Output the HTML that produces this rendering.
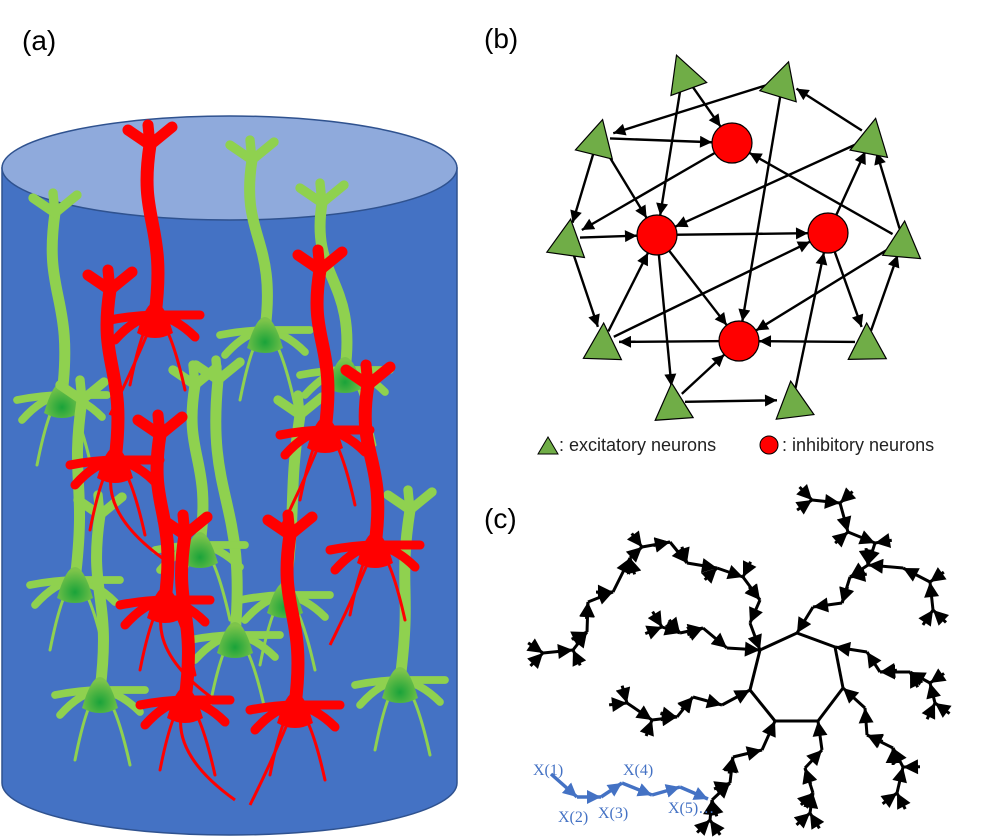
<!DOCTYPE html>
<html><head><meta charset="utf-8"><style>
html,body{margin:0;padding:0;background:#fff;}
svg{display:block;font-family:"Liberation Sans",sans-serif;}
</style></head><body>
<svg id="fig" width="1006" height="838" viewBox="0 0 1006 838">
<defs>
<radialGradient id="gsoma" cx="50%" cy="70%" r="60%"><stop offset="0" stop-color="#1aa33a"/><stop offset="1" stop-color="#7dc44a"/></radialGradient>
<marker id="ah" viewBox="0 0 10 10" refX="10" refY="5" markerWidth="6" markerHeight="5" orient="auto"><path d="M0,0L10,5L0,10z" fill="#000"/></marker>
<marker id="ab" viewBox="0 0 10 10" refX="10" refY="5" markerWidth="4" markerHeight="4" orient="auto"><path d="M0,0L10,5L0,10z" fill="#4472c4"/></marker>
<marker id="at" viewBox="0 0 10 10" refX="10" refY="5" markerWidth="7" markerHeight="5" orient="auto"><path d="M0,0L10,5L0,10z" fill="#000"/></marker>
</defs>
<text x="22" y="50" font-size="28">(a)</text>
<text x="484" y="48" font-size="28">(b)</text>
<text x="484" y="528" font-size="28">(c)</text>
<g id="cyl">
<path d="M2,168 L2,783 A227.5,52 0 0 0 457,783 L457,168 Z" fill="#4472c4" stroke="#2f528f" stroke-width="1.5"/>
<ellipse cx="229.5" cy="168" rx="227.5" ry="52" fill="#8faadc" stroke="#2f528f" stroke-width="1.5"/>
</g>
<g id="neurons"></g>
<g id="netb"></g>
<g>
<polygon points="538,454 548,437 558,454" fill="#70ad47" stroke="#000" stroke-width="1"/>
<text x="559" y="451" font-size="18" fill="#222">: excitatory neurons</text>
<circle cx="769" cy="445" r="9" fill="#f00" stroke="#000" stroke-width="1"/>
<text x="782" y="451" font-size="18" fill="#222">: inhibitory neurons</text>
</g>
<g id="tree"></g>
<g id="chain"></g>
</svg>
<script>
const NS='http://www.w3.org/2000/svg';
function mk(parent,tag,attrs){const e=document.createElementNS(NS,tag);for(const k in attrs)e.setAttribute(k,attrs[k]);parent.appendChild(e);return e;}
const greenNeurons=[[62,395,55,198],[265,330,252,145],[345,370,322,188],[75,580,82,385],[235,635,218,365],[285,595,300,400],[400,680,410,495],[100,690,100,500],[200,545,195,370]];
const redNeurons=[[155,315,150,130],[115,460,110,275],[325,430,320,255],[165,600,160,420],[375,545,368,370],[185,700,185,520],[295,705,290,520]];
const NG=document.getElementById('neurons');
function neuron(n,col,thick,axon){
  const [sx,sy,tx,ty]=n;const g=mk(NG,'g',{});
  
  
  [[-40,25],[40,22],[-25,70],[30,75],[-45,5],[45,0]].forEach(([dx,dy])=>{
    mk(g,'path',{d:`M${sx},${sy} q${dx*0.5},${dy*0.1} ${dx},${dy}`,stroke:col,'stroke-width':dy>40?3:thick*0.7,fill:'none','stroke-linecap':'round'});
  });
  if(axon) mk(g,'path',{d:`M${sx},${sy} q${-20},50 ${axon},100`,stroke:col,'stroke-width':3,fill:'none'});
  mk(g,'path',{d:`M${sx},${sy} C${sx+12},${(sy+ty)/2} ${tx-12},${(sy+ty)/2} ${tx},${ty+15}`,stroke:col,'stroke-width':thick,fill:'none','stroke-linecap':'round'});
  mk(g,'path',{d:`M${tx-22},${ty} L${tx},${ty+15} L${tx+22},${ty-3} M${tx},${ty+15} L${tx-2},${ty-5}`,stroke:col,'stroke-width':thick*0.85,fill:'none','stroke-linecap':'round'});
  mk(g,'path',{d:`M${sx-18},${sy+18} Q${sx},${sy-44} ${sx+18},${sy+18} Q${sx},${sy+28} ${sx-18},${sy+18}Z`,fill:col==='#f00'?'#f00':'url(#gsoma)'});
}
greenNeurons.forEach(n=>neuron(n,'#8fd14f',11,0));
redNeurons.forEach((n,i)=>neuron(n,'#f00',13,(i%2?50:-45)));
const triNodes=[[683,73],[783,80],[598,138],[872,137],[568,238],[903,240],[603,342],[867,342],[673,402],[793,400]];
const circNodes=[[732,143],[657,235],[828,233],[739,341]];
const edges=[['T0','C0'],['T0','C1'],['T1','T2'],['T1','C3'],['T3','T1'],['T3','C1'],['T2','C0'],['T2','T4'],['T2','C1'],['C0','T4'],['T4','C1'],['C1','C2'],['C1','C3'],['C1','T8'],['T4','T6'],['T6','C1'],['T6','C2'],['C2','T3'],['T5','T3'],['T5','C0'],['T5','C3'],['T7','T5'],['C2','T7'],['T7','C3'],['C3','T6'],['T8','C3'],['T8','T9'],['T9','C2']];
const B=document.getElementById('netb');
function pos(id){return id[0]==='T'?triNodes[+id.slice(1)]:circNodes[+id.slice(1)];}
edges.forEach(([a,b])=>{const p=pos(a),q=pos(b);const dx=q[0]-p[0],dy=q[1]-p[1],L=Math.hypot(dx,dy);const r1=12,r2=b[0]==='C'?20:16;
  const l=mk(B,'line',{x1:p[0]+dx/L*r1,y1:p[1]+dy/L*r1,x2:q[0]-dx/L*r2,y2:q[1]-dy/L*r2,stroke:'#000','stroke-width':2.4,'marker-end':'url(#ah)'});
  
  });
triNodes.forEach(([x,y],i)=>{const t=mk(B,'polygon',{points:`${x-19},${y+17} ${x},${y-19} ${x+19},${y+17}`,fill:'#70ad47',stroke:'#000','stroke-width':1.2,transform:`rotate(${(i*37)%40-20} ${x} ${y})`});
  
  });
circNodes.forEach(([x,y])=>{const c=mk(B,'circle',{cx:x,cy:y,r:20,fill:'#f00',stroke:'#000','stroke-width':1.2});
  
  });
const ring=[[760,650],[797,633],[835,647],[843,688],[818,721],[775,721],[750,690]];
const chains=[
 [[760,650],[750,623],[760,600],[743,577],[717,568],[687,563],[670,542],[642,547],[630,558],[613,592],[588,602],[587,632],[573,650],[543,653]],
 [[760,650],[727,648],[703,628],[680,633],[662,627]],
 [[797,633],[813,607],[842,603],[850,577],[868,565],[875,543],[848,532],[840,503],[812,500]],
 [[868,565],[903,568],[930,582],[933,610]],
 [[835,647],[867,652],[880,672],[910,672],[930,683],[935,703]],
 [[843,688],[865,708],[867,735],[893,748],[903,767],[897,793]],
 [[818,721],[822,750],[805,768],[813,793],[810,813]],
 [[775,721],[762,750],[733,757],[730,783],[712,800],[710,820]],
 [[750,690],[722,705],[693,697],[677,717],[652,720],[627,703]]
];
const T=document.getElementById('tree');
function seg(x1,y1,x2,y2,arrow){const l=mk(T,'line',{x1:x2,y1:y2,x2:x1,y2:y1,stroke:'#000','stroke-width':3});if(arrow)l.setAttribute('marker-end','url(#at)');
  
  }
for(let i=0;i<ring.length;i++){const a=ring[i],b=ring[(i+1)%ring.length];const l=mk(T,'line',{x1:a[0],y1:a[1],x2:b[0],y2:b[1],stroke:'#000','stroke-width':3});
  
  }
function twig(x,y,ang,len){seg(x,y,x+Math.cos(ang)*len,y+Math.sin(ang)*len,true);}
chains.forEach(ch=>{
  for(let i=1;i<ch.length;i++){
    const p=ch[i-1],q=ch[i];seg(p[0],p[1],q[0],q[1],true);
    const a=Math.atan2(q[1]-p[1],q[0]-p[0]);
    if(i===ch.length-1){twig(q[0],q[1],a-0.7,18);twig(q[0],q[1],a+0.7,18);}
    else if(i>1){twig(q[0],q[1],a+((i%2)?1.1:-1.1),17);}
  }
});
const C=document.getElementById('chain');
const chainPts=[[551,774],[577,797],[601,797],[622,783],[652,795],[680,787],[708,799]];
for(let i=0;i<chainPts.length-1;i++){const p=chainPts[i],q=chainPts[i+1];const l=mk(C,'line',{x1:p[0],y1:p[1],x2:q[0],y2:q[1],stroke:'#4472c4','stroke-width':3.5,'marker-end':'url(#ab)'});
  
  }
[['X(1)',533,775],['X(2)',558,822],['X(3)',598,818],['X(4)',623,775],['X(5)…',668,813]].forEach(([t,x,y])=>{const e=mk(C,'text',{x:x,y:y,'font-size':16,fill:'#4472c4','font-family':'Liberation Serif,serif'});e.textContent=t;
  
  });
</script>
</body></html>
